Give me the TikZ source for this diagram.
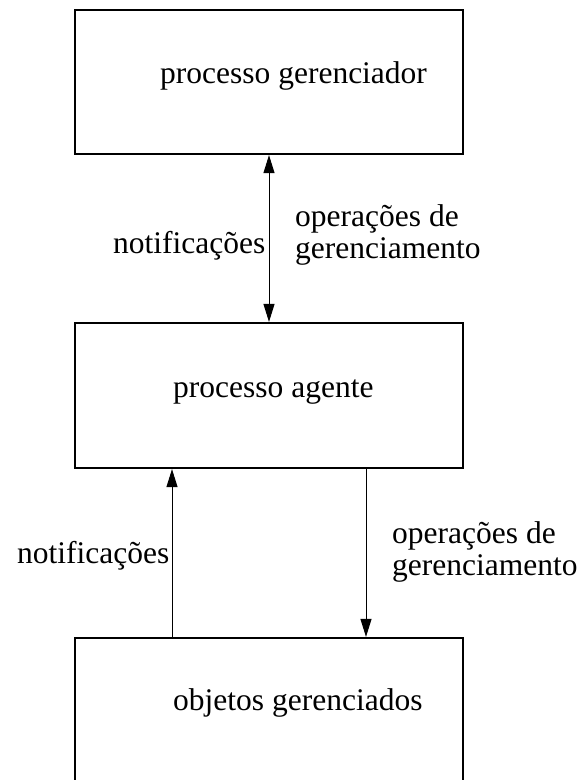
\documentclass[tikz,border=0pt]{standalone}
\usepackage{fontspec}
\setmainfont{Liberation Serif}
\usetikzlibrary{arrows.meta}
\begin{document}
\begin{tikzpicture}[x=1pt,y=-1pt,
  >={Triangle[length=18pt,width=11pt]},
  box/.style={draw,line width=2.2pt,rectangle,minimum width=388pt,inner sep=0pt},
  txt/.style={inner sep=0pt,anchor=base west,font=\fontsize{31.5}{32}\selectfont},
  lbl/.style={inner sep=0pt,anchor=base west,align=left,font=\fontsize{31.5}{31.5}\selectfont},
  conn/.style={line width=1pt}]
\useasboundingbox (0,0) rectangle (579,780);
% boxes
\node[box,minimum height=144pt] (mgr) at (269,82) {};
\node[box,minimum height=145pt] (agt) at (269,395.5) {};
\node[box,minimum height=160pt] (obj) at (269,718) {};
% box texts
\node[txt] (tmgr) at (160,83) {processo gerenciador};
\node[txt] (tagt) at (173,397) {processo agente};
\node[txt] (tobj) at (173,710) {objetos gerenciados};
% connectors
\draw[conn,<->] (mgr.south) -- (agt.north);
\draw[conn,->] (obj.north west -| 172,0) -- (agt.south west -| 172,0);
\draw[conn,->] (agt.south west -| 366,0) -- (obj.north west -| 366,0);
% labels
\node[lbl] (n1) at (113,253) {notificações};
\node[lbl] (o1) at (295,258) {operações de\\gerenciamento};
\node[lbl] (n2) at (17,563) {notificações};
\node[lbl] (o2) at (392,575) {operações de\\gerenciamento};
\end{tikzpicture}
\end{document}
